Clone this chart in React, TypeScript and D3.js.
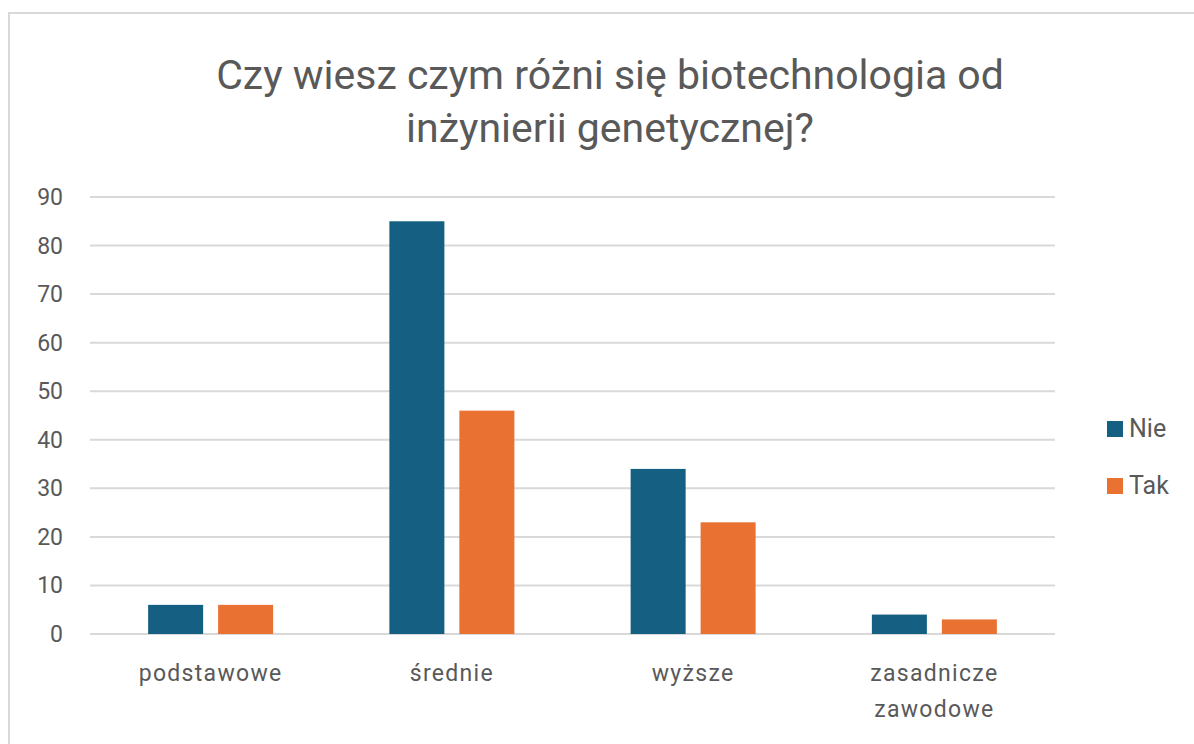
import React, { useEffect, useRef } from "react";
import * as d3 from "d3";

const categories = ["podstawowe", "średnie", "wyższe", "zasadnicze zawodowe"];
const categoryLines = [["podstawowe"], ["średnie"], ["wyższe"], ["zasadnicze", "zawodowe"]];
const seriesNames = ["Nie", "Tak"];
const nieValues = [6, 85, 34, 4];
const takValues = [6, 46, 23, 3];
const yTicks = [0, 10, 20, 30, 40, 50, 60, 70, 80, 90];
const titleLines = ["Czy wiesz czym różni się biotechnologia od", "inżynierii genetycznej?"];

const colors = ["#156082", "#E97132"];
const font = "Roboto, 'Open Sans', sans-serif";
const textColor = "#595959";

const App: React.FC = () => {
  const svgRef = useRef<SVGSVGElement | null>(null);

  useEffect(() => {
    if (!svgRef.current) return;
    const svg = d3.select(svgRef.current);
    svg.selectAll("*").remove();

    const width = 1194;
    const height = 744;
    const plot = { left: 90, right: 1055, top: 197, bottom: 634 };

    svg.attr("width", width).attr("height", height);

    svg
      .append("rect")
      .attr("x", 9)
      .attr("y", 13)
      .attr("width", 1300)
      .attr("height", 800)
      .attr("fill", "#fff")
      .attr("stroke", "#d9d9d9")
      .attr("stroke-width", 2);

    // title
    svg
      .append("g")
      .selectAll("text")
      .data(titleLines)
      .enter()
      .append("text")
      .attr("x", 610)
      .attr("y", (_, i) => 89 + i * 53)
      .attr("text-anchor", "middle")
      .attr("font-family", font)
      .attr("font-size", 41)
      .attr("fill", textColor)
      .text((d) => d);

    const x = d3
      .scaleBand<string>()
      .domain(categories)
      .range([plot.left, plot.right]);

    const groupW = 125;
    const xInner = d3
      .scaleBand<string>()
      .domain(seriesNames)
      .range([0, groupW])
      .paddingInner(0.214);

    const y = d3.scaleLinear().domain([0, 90]).range([plot.bottom, plot.top]);

    // gridlines
    svg
      .append("g")
      .selectAll("line")
      .data(yTicks)
      .enter()
      .append("line")
      .attr("x1", plot.left)
      .attr("x2", plot.right)
      .attr("y1", (d) => y(d))
      .attr("y2", (d) => y(d))
      .attr("stroke", "#d9d9d9")
      .attr("stroke-width", 2);

    // y labels
    svg
      .append("g")
      .selectAll("text")
      .data(yTicks)
      .enter()
      .append("text")
      .attr("x", 63)
      .attr("y", (d) => y(d))
      .attr("dy", "0.35em")
      .attr("text-anchor", "end")
      .attr("font-family", font)
      .attr("font-size", 23)
      .attr("fill", textColor)
      .text((d) => d);

    const values = [nieValues, takValues];

    values.forEach((vals, si) => {
      svg
        .append("g")
        .selectAll("rect")
        .data(categories)
        .enter()
        .append("rect")
        .attr("x", (c) => x(c)! + (x.bandwidth() - groupW) / 2 + xInner(seriesNames[si])!)
        .attr("y", (_, i) => y(vals[i]))
        .attr("width", xInner.bandwidth())
        .attr("height", (_, i) => plot.bottom - y(vals[i]))
        .attr("fill", colors[si]);
    });

    // category labels
    const cat = svg.append("g");
    categories.forEach((c, i) => {
      categoryLines[i].forEach((line, li) => {
        cat
          .append("text")
          .attr("x", x(c)! + x.bandwidth() / 2)
          .attr("y", 681 + li * 36)
          .attr("text-anchor", "middle")
          .attr("font-family", font)
          .attr("font-size", 23)
          .attr("letter-spacing", 1.3)
          .attr("fill", textColor)
          .text(line);
      });
    });

    // legend
    const legend = svg.append("g");
    seriesNames.forEach((s, i) => {
      legend
        .append("rect")
        .attr("x", 1107)
        .attr("y", 421 + i * 57)
        .attr("width", 16)
        .attr("height", 16)
        .attr("fill", colors[i]);
      legend
        .append("text")
        .attr("x", 1129)
        .attr("y", 437 + i * 57)
        .attr("font-family", font)
        .attr("font-size", 25)
        .attr("fill", textColor)
        .text(s);
    });
  }, []);

  return (
    <svg
      ref={svgRef}
      style={{ position: "absolute", left: 0, top: 0, display: "block" }}
    ></svg>
  );
};

export default App;
